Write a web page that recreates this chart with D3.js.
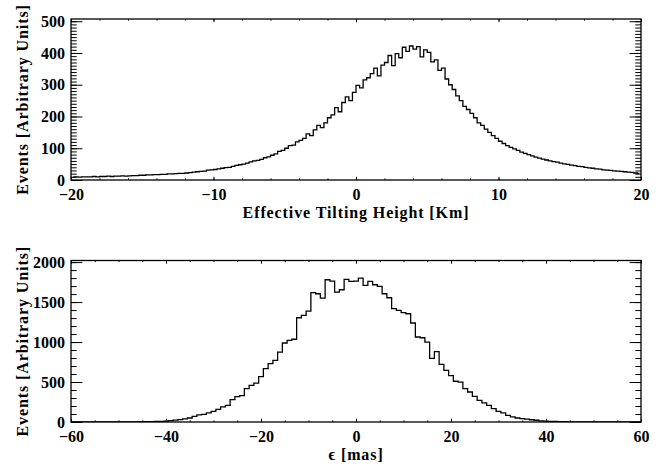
<!DOCTYPE html>
<html>
<head>
<meta charset="utf-8">
<script src="https://cdn.jsdelivr.net/npm/d3@7"></script>
<style>
  html, body { margin: 0; padding: 0; background: #fff; }
  svg { display: block; }
  text { font-family: "Liberation Serif", "DejaVu Serif", serif; fill: #000; }
</style>
</head>
<body>
<svg id="chart" width="670" height="469"></svg>
<script>
// ---------- Data ----------
// Top panel: histogram of effective tilting height (bin width 0.25 km, first bin centre -19.875)
const heightBinStart = -19.875;
const heightBinWidth = 0.25;
const heightCounts = [
  9, 10, 9, 10,   10, 10, 11, 10,   11, 11, 12, 11,   12, 12, 13, 12,
  13, 14, 14, 15,   15, 16, 16, 17,   17, 18, 18, 19,   19, 20, 21, 21,
  22, 23, 25, 26,   27, 28, 31, 32,   33, 35, 37, 39,   40, 43, 46, 48,
  50, 53, 57, 60,   62, 65, 70, 73,   78, 82, 90, 93,   100, 108, 110, 120,
  125, 131, 145, 140,   158, 172, 165, 180,   196, 205, 228, 215,   244, 262, 250, 276,
  298, 290, 315, 322,   335, 352, 328, 362,   370, 392, 360, 398,   385, 418, 405, 422,
  412, 420, 388, 410,   402, 372, 378, 345,   352, 318, 300, 285,   265, 250, 232, 222,
  210, 196, 180, 172,   160, 150, 140, 131,   122, 115, 108, 103,   98, 93, 88, 84,
  80, 76, 72, 69,   66, 63, 60, 58,   56, 53, 51, 49,   47, 45, 43, 42,
  40, 38, 37, 35,   34, 32, 31, 30,   29, 28, 27, 26,   25, 24, 22, 21
];

// Bottom panel: histogram of epsilon (bin width 1 mas, first bin centre -60)
const epsBinStart = -60;
const epsBinWidth = 1;
const epsCounts = [
  0, 0, 0, 0, 0, 0, 0, 0, 0, 0,            // -60 .. -51
  0, 1, 1, 2, 2, 3, 4, 5, 7, 9,            // -50 .. -41
  12, 18, 24, 30, 38, 50, 71, 88, 96, 113,  // -40 .. -31
  133, 158, 188, 208, 280, 318, 330, 417, 458, 485, // -30 .. -21
  568, 667, 729, 771, 875, 988, 1020, 1035, 1304, 1333, // -20 .. -11
  1388, 1617, 1604, 1550, 1779, 1762, 1625, 1654, 1783, 1758, // -10 .. -1
  1762, 1800, 1708, 1758, 1717, 1696, 1604, 1554, 1417, 1396, // 0 .. 9
  1367, 1354, 1238, 1063, 1054, 1000, 796, 879, 720, 646,    // 10 .. 19
  580, 510, 500, 417, 375, 321, 271, 238, 208, 167,          // 20 .. 29
  133, 113, 83, 63, 50, 42, 35, 28, 22, 15,                  // 30 .. 39
  11, 8, 6, 4, 3, 2, 2, 1, 1, 0,                             // 40 .. 49
  0, 0, 0, 0, 0, 0, 0, 0, 0, 0, 0                            // 50 .. 60
];

// Axis ticks
const topXMajor = [-20, -10, 0, 10, 20];
const topXMinorStep = 2;
const topYMajor = [0, 100, 200, 300, 400, 500];
const topYMinorStep = 10;
const botXMajor = [-60, -40, -20, 0, 20, 40, 60];
const botXMinorStep = 5;
const botYMajor = [0, 500, 1000, 1500, 2000];
const botYMinorStep = 100;

const topXLabel = "Effective Tilting Height [Km]";
const botXLabel = "\u03F5 [mas]";
const yLabel = "Events [Arbitrary Units]";

// ---------- Drawing ----------
const svg = d3.select("#chart");
const fmt = d => (d < 0 ? "\u2212" + Math.abs(d) : String(d));
const FONT = "Liberation Serif, DejaVu Serif, serif";

function panel(cfg) {
  const { id, x0, x1, yTop, yBot, xDom, yDom, xMajor, xMinorStep, yMajor, yMinorStep,
          binStart, binWidth, counts, xTitle } = cfg;
  const x = d3.scaleLinear().domain(xDom).range([x0, x1]);
  const y = d3.scaleLinear().domain(yDom).range([yBot, yTop]);
  const g = svg.append("g");

  const xMinor = d3.range(xDom[0], xDom[1] + 1e-9, xMinorStep);
  const yMinor = d3.range(yDom[0], yDom[1] + 1e-9, yMinorStep).filter(v => v <= yDom[1]);
  const xTickLen = 0.02 * (yBot - yTop);
  const yTickLen = 0.02 * (x1 - x0);

  svg.append("clipPath").attr("id", "clip" + id)
    .append("rect").attr("x", x0).attr("y", yTop).attr("width", x1 - x0).attr("height", yBot - yTop);

  const data = counts.map((c, i) => [binStart + i * binWidth, c]);
  const line = d3.line().x(d => x(d[0])).y(d => y(d[1])).curve(d3.curveStep);
  g.append("path").datum(data)
    .attr("clip-path", "url(#clip" + id + ")")
    .attr("fill", "none").attr("stroke", "#000").attr("stroke-width", 1.3)
    .attr("d", line);

  const style = sel => {
    sel.select(".domain").remove();
    sel.selectAll(".tick line").attr("stroke", "#000").attr("stroke-width", 1);
  };
  const labelStyle = s => s.selectAll("text")
    .attr("font-size", 16).attr("font-weight", "bold").attr("font-family", FONT).attr("fill", "#000");

  g.append("g").attr("transform", `translate(0,${yBot})`)
    .call(d3.axisBottom(x).tickValues(xMajor).tickSize(-xTickLen).tickPadding(9).tickFormat(fmt))
    .call(style).call(labelStyle);
  g.append("g").attr("transform", `translate(0,${yBot})`)
    .call(d3.axisBottom(x).tickValues(xMinor).tickSize(-xTickLen / 2).tickFormat(""))
    .call(style);
  g.append("g").attr("transform", `translate(0,${yTop})`)
    .call(d3.axisTop(x).tickValues(xMajor).tickSize(-xTickLen).tickFormat(""))
    .call(style);
  g.append("g").attr("transform", `translate(0,${yTop})`)
    .call(d3.axisTop(x).tickValues(xMinor).tickSize(-xTickLen / 2).tickFormat(""))
    .call(style);
  g.append("g").attr("transform", `translate(${x0},0)`)
    .call(d3.axisLeft(y).tickValues(yMajor).tickSize(-yTickLen).tickPadding(6).tickFormat(fmt))
    .call(style).call(labelStyle);
  g.append("g").attr("transform", `translate(${x0},0)`)
    .call(d3.axisLeft(y).tickValues(yMinor).tickSize(-yTickLen / 2).tickFormat(""))
    .call(style);
  g.append("g").attr("transform", `translate(${x1},0)`)
    .call(d3.axisRight(y).tickValues(yMajor).tickSize(-yTickLen).tickFormat(""))
    .call(style);
  g.append("g").attr("transform", `translate(${x1},0)`)
    .call(d3.axisRight(y).tickValues(yMinor).tickSize(-yTickLen / 2).tickFormat(""))
    .call(style);

  g.append("rect").attr("x", x0).attr("y", yTop).attr("width", x1 - x0).attr("height", yBot - yTop)
    .attr("fill", "none").attr("stroke", "#000").attr("stroke-width", 1.3);

  g.append("text").attr("x", (x0 + x1) / 2).attr("y", yBot + 38)
    .attr("text-anchor", "middle").attr("font-size", 16).attr("font-weight", "bold")
    .attr("letter-spacing", 0.9).text(xTitle);
  g.append("text")
    .attr("transform", `translate(28,${(yTop + yBot) / 2}) rotate(-90)`)
    .attr("text-anchor", "middle").attr("font-size", 16).attr("font-weight", "bold")
    .attr("letter-spacing", 0.9).text(yLabel);
}

panel({ id: "top", x0: 71, x1: 641, yTop: 19, yBot: 180, xDom: [-20, 20], yDom: [0, 507],
        xMajor: topXMajor, xMinorStep: topXMinorStep, yMajor: topYMajor, yMinorStep: topYMinorStep,
        binStart: heightBinStart, binWidth: heightBinWidth, counts: heightCounts, xTitle: topXLabel });
panel({ id: "bot", x0: 71, x1: 641, yTop: 260.5, yBot: 422, xDom: [-60, 60], yDom: [0, 2020],
        xMajor: botXMajor, xMinorStep: botXMinorStep, yMajor: botYMajor, yMinorStep: botYMinorStep,
        binStart: epsBinStart, binWidth: epsBinWidth, counts: epsCounts, xTitle: botXLabel });
</script>
</body>
</html>
